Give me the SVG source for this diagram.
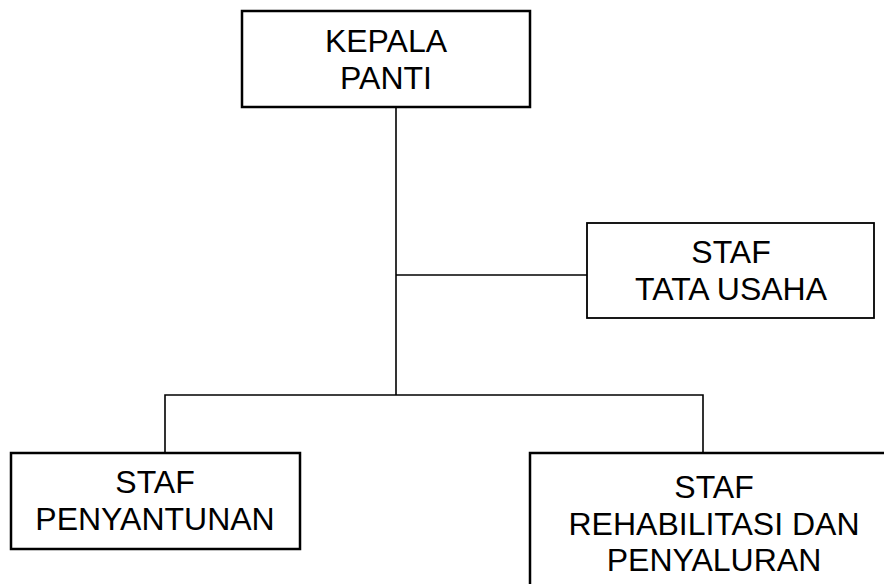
<svg xmlns="http://www.w3.org/2000/svg" width="884" height="584" viewBox="0 0 884 584">
<style>
.box{fill:#fff;stroke:#000;stroke-width:2.5}
.ln{fill:none;stroke:#000;stroke-width:1.6}
text{font-family:"Liberation Sans",Arial,sans-serif;font-size:32px;fill:#000;text-anchor:middle}
</style>
<rect width="884" height="584" fill="#fff"/>
<g id="connectors">
<line class="ln" x1="396" y1="107" x2="396" y2="395"/>
<line class="ln" x1="396" y1="275" x2="587" y2="275"/>
<polyline class="ln" points="165,453 165,395 703,395 703,453"/>
</g>
<g id="kepala">
<rect class="box" x="242" y="11" width="288" height="96"/>
<text x="386" y="52">KEPALA</text>
<text x="386" y="89">PANTI</text>
</g>
<g id="tatausaha">
<rect class="box" x="587" y="223" width="287" height="95" style="stroke-width:1.8"/>
<text x="731" y="263">STAF</text>
<text x="731" y="300">TATA USAHA</text>
</g>
<g id="penyantunan">
<rect class="box" x="11" y="453" width="289" height="96"/>
<text x="155" y="493">STAF</text>
<text x="155" y="530">PENYANTUNAN</text>
</g>
<g id="rehabilitasi">
<rect class="box" x="530" y="453" width="370" height="150"/>
<text x="714" y="498">STAF</text>
<text x="714" y="535">REHABILITASI DAN</text>
<text x="714" y="571">PENYALURAN</text>
</g>
</svg>
